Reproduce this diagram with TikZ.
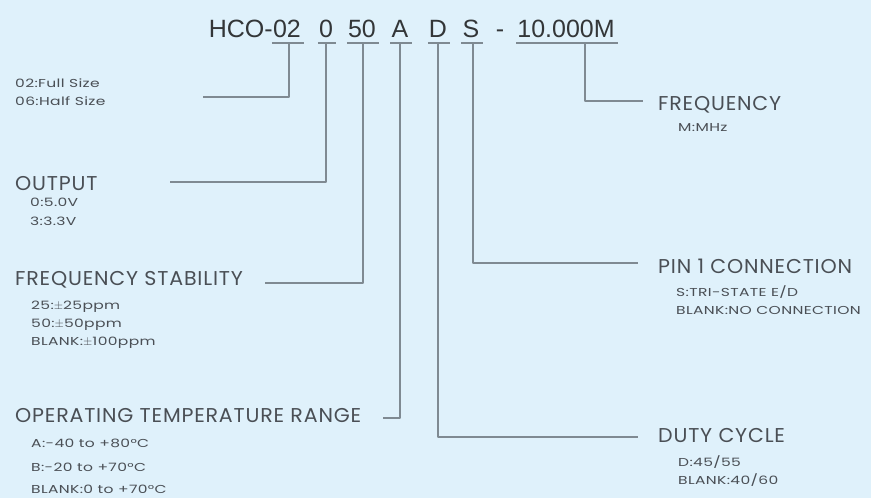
\documentclass[tikz,border=0pt]{standalone}
\usepackage{fontspec}
\usepackage{tikz}
\usetikzlibrary{positioning, calc}
\newfontfamily\headfont[FakeStretch=1.03, LetterSpace=4]{Poppins}
\newfontfamily\subfont[FakeStretch=1.35, LetterSpace=3]{Poppins}
\newfontfamily\titlefont{Liberation Sans}
\definecolor{pagebg}{HTML}{DFF1FB}
\definecolor{leadgray}{HTML}{7F8A92}
\definecolor{inkgray}{HTML}{4A4F55}
\definecolor{titleink}{HTML}{333638}

\begin{document}
\begin{tikzpicture}[x=1pt, y=-1pt, line join=round,
    part/.style={font=\titlefont\fontsize{25}{25}\selectfont, text=titleink, inner sep=0pt, anchor=base},
    head/.style={font=\headfont\fontsize{20}{20}\selectfont, text=inkgray, inner sep=0pt, anchor=base west},
    sub/.style={font=\subfont\fontsize{11.5}{11.5}\selectfont, text=inkgray, inner sep=0pt, anchor=base west},
    lead/.style={draw=leadgray, line width=1.2pt}]
    \fill[pagebg] (0,0) rectangle (871,498);
    \useasboundingbox (0,0) rectangle (871,498);

    % part number
    \node[part] (t02) at (287,37) {02};
    \node[part, anchor=base east] (hco) at (t02.base west) {HCO-};
    \node[part] (t0) at (326,37) {0};
    \node[part] (t50) at (362,37) {50};
    \node[part] (tA) at (400,37) {A};
    \node[part] (tD) at (438,37) {D};
    \node[part] (tS) at (471,37) {S};
    \node[part] (tdash) at (500,37) {-};
    \node[part] (tfreq) at (566,37) {10.000M};
    \foreach \t in {t02, t0, t50, tA, tD, tS, tfreq} {
        \draw[lead] ([shift={(-1pt,-6pt)}]\t.base west) -- ([shift={(3pt,-6pt)}]\t.base east);
    }

    % left side
    \node[head] (hout) at (15,190) {OUTPUT};
    \node[head] (hstab) at (15,285) {FREQUENCY STABILITY};
    \node[head] (htemp) at (15,422) {OPERATING TEMPERATURE RANGE};
    \foreach \n/\x/\y/\txt in {sa/15/87/{02:Full Size}, sb/15/105/{06:Half Size},
                               oa/30/206/{0:5.0V}, ob/30/225/{3:3.3V},
                               fa/31/309/{25:$\pm$25ppm}, fb/31/327/{50:$\pm$50ppm}, fc/31/345/{BLANK:$\pm$100ppm},
                               ra/31/447/{A:-40 to +80\textdegree C}, rb/31/471/{B:-20 to +70\textdegree C}, rc/31/493/{BLANK:0 to +70\textdegree C}} {
        \node[sub] (\n) at (\x,\y) {\txt};
    }

    % right side
    \node[head] (hfreq) at (658,110) {FREQUENCY};
    \node[head] (hpin) at (658,273) {PIN 1 CONNECTION};
    \node[head] (hduty) at (658,442) {DUTY CYCLE};
    \foreach \n/\x/\y/\txt in {qa/678/131/{M:MHz},
                               pa/676/296/{S:TRI-STATE E/D}, pb/676/314/{BLANK:NO CONNECTION},
                               da/678/466/{D:45/55}, db/678/484/{BLANK:40/60}} {
        \node[sub] (\n) at (\x,\y) {\txt};
    }

    % leaders
    \coordinate (e02) at (203,97);
    \coordinate (e0) at (170,182);
    \coordinate (e50) at (265,283);
    \coordinate (eA) at (383,418);
    \coordinate (eD) at (638,437);
    \coordinate (eS) at (638,263);
    \coordinate (efreq) at (643,101);
    \draw[lead] ([shift={(2pt,-6pt)}]t02.base) |- (e02);
    \draw[lead] ([shift={(0pt,-6pt)}]t0.base) |- (e0);
    \draw[lead] ([shift={(1pt,-6pt)}]t50.base) |- (e50);
    \draw[lead] ([shift={(0pt,-6pt)}]tA.base) |- (eA);
    \draw[lead] ([shift={(0pt,-6pt)}]tD.base) |- (eD);
    \draw[lead] ([shift={(2pt,-6pt)}]tS.base) |- (eS);
    \draw[lead] ([shift={(19pt,-6pt)}]tfreq.base) |- (efreq);
\end{tikzpicture}
\end{document}
